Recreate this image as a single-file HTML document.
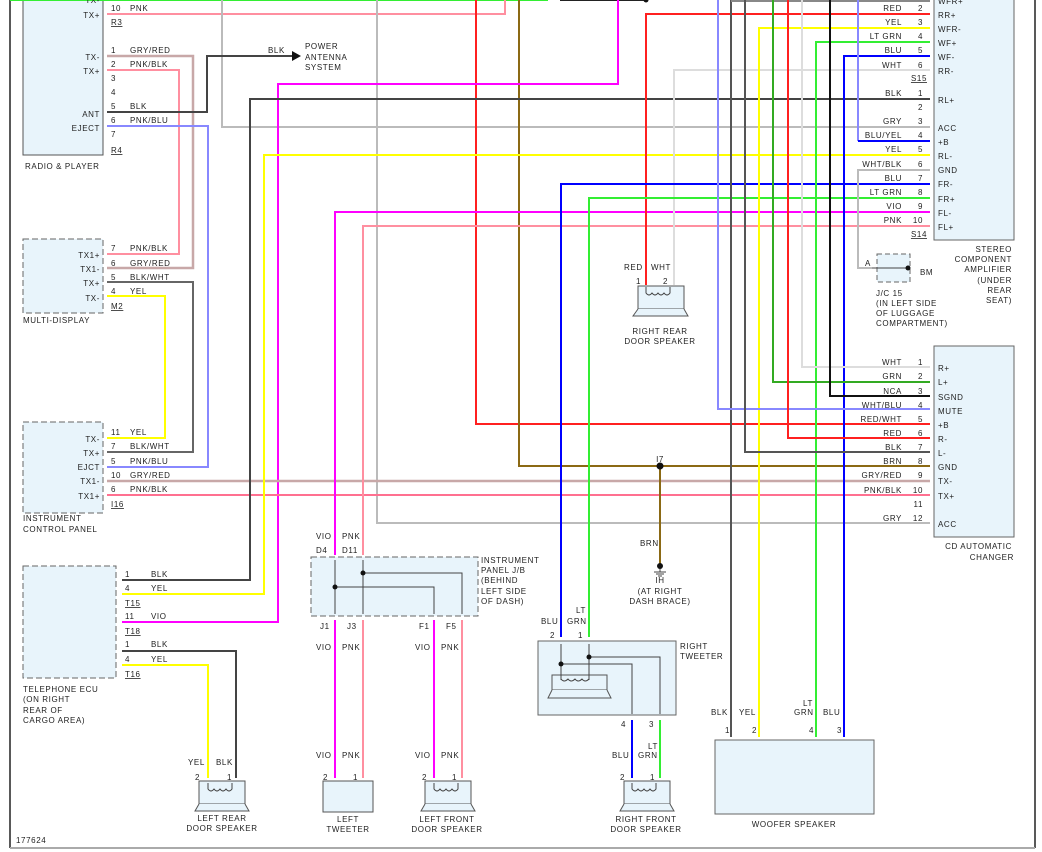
<!DOCTYPE html>
<html><head><meta charset="utf-8"><style>
html,body{margin:0;padding:0;background:#fff;width:1042px;height:852px;overflow:hidden}
svg text{font-family:"Liberation Sans",sans-serif;font-size:8px;letter-spacing:.6px;fill:#222}
.e{text-anchor:end}.m{text-anchor:middle}
</style></head><body>
<svg width="1042" height="852" viewBox="0 0 1042 852" xmlns="http://www.w3.org/2000/svg">
<!-- frame -->
<line x1="10" y1="0" x2="10" y2="848" stroke="#222" stroke-width="1.5"/>
<line x1="1035" y1="0" x2="1035" y2="848" stroke="#222" stroke-width="1.5"/>
<line x1="10" y1="848" x2="1035" y2="848" stroke="#aaa" stroke-width="2"/>

<!-- boxes -->
<rect x="23" y="-2" width="80" height="157" fill="#e8f4fb" stroke="#555"/>
<rect x="23" y="239" width="80" height="74" fill="#e8f4fb" stroke="#666" stroke-dasharray="6,3"/>
<rect x="23" y="422" width="80" height="91" fill="#e8f4fb" stroke="#666" stroke-dasharray="6,3"/>
<rect x="23" y="566" width="93" height="112" fill="#e8f4fb" stroke="#666" stroke-dasharray="6,3"/>
<rect x="934" y="-2" width="80" height="242" fill="#e8f4fb" stroke="#666"/>
<rect x="934" y="346" width="80" height="191" fill="#e8f4fb" stroke="#666"/>
<rect x="311" y="557" width="167" height="59" fill="#e8f4fb" stroke="#666" stroke-dasharray="6,3"/>
<rect x="877" y="254" width="33" height="28" fill="#e8f4fb" stroke="#666" stroke-dasharray="5,3"/>
<rect x="538" y="641" width="138" height="74" fill="#e8f4fb" stroke="#666"/>
<rect x="715" y="740" width="159" height="74" fill="#e8f4fb" stroke="#666"/>
<rect x="323" y="781" width="50" height="31" fill="#e8f4fb" stroke="#555"/>

<!-- door speakers -->
<g fill="#e8f4fb" stroke="#555">
<rect x="638" y="286" width="46" height="23"/><path d="M638 309 L633 316 L688 316 L684 309"/>
<rect x="199" y="781" width="46" height="23"/><path d="M199 804 L195 811 L249 811 L245 804"/>
<rect x="425" y="781" width="46" height="23"/><path d="M425 804 L421 811 L475 811 L471 804"/>
<rect x="624" y="781" width="46" height="23"/><path d="M624 804 L620 811 L674 811 L670 804"/>
<rect x="552" y="675" width="55" height="15"/><path d="M552 690 L548 698 L611 698 L607 690"/>
</g>

<!-- wires -->
<g fill="none" stroke-width="2">
<line x1="10" y1="0" x2="548" y2="0" stroke="#33ee33"/>
<line x1="560" y1="0" x2="646" y2="0" stroke="#222"/>
<polyline points="107,14 505,14 505,0" stroke="#ff8fa0"/>
<polyline points="222,0 222,127 930,127" stroke="#bbb"/>
<polyline points="377,0 377,523 930,523" stroke="#bbb"/>
<polyline points="476,0 476,424 930,424" stroke="#ff2020"/>
<polyline points="519,0 519,466 930,466" stroke="#8b6914"/>
<polyline points="618,0 618,84 278,84 278,622 122,622" stroke="#ff00ff"/>
<polyline points="107,56 193,56 193,268 107,268" stroke="#c8a8a8" stroke-width="2.5"/>
<polyline points="107,70 179,70 179,254 107,254" stroke="#ff8fa0"/>
<polyline points="107,112 207,112 207,56 292,56" stroke="#444"/>
<polyline points="107,126 208,126 208,467 107,467" stroke="#8888ff"/>
<polyline points="107,282 193,282 193,452 107,452" stroke="#666"/>
<polyline points="107,296 165,296 165,438 107,438" stroke="#ffff00"/>
<line x1="107" y1="481" x2="930" y2="481" stroke="#c8a8a8" stroke-width="2.5"/>
<line x1="107" y1="495" x2="930" y2="495" stroke="#ff7090"/>
<polyline points="122,580 250,580 250,99 930,99" stroke="#444"/>
<polyline points="122,594 264,594 264,155 930,155" stroke="#ffff00"/>
<polyline points="122,651 236,651 236,778" stroke="#444"/>
<polyline points="122,665 208,665 208,778" stroke="#ffff00"/>
<polyline points="930,212 335,212 335,555" stroke="#ff00ff"/>
<polyline points="930,226 363,226 363,555" stroke="#ff8fa0"/>
<polyline points="930,14 646,14 646,285" stroke="#ff2020"/>
<polyline points="930,70 674,70 674,285" stroke="#ddd"/>
<polyline points="930,184 561,184 561,637" stroke="#0000ff"/>
<polyline points="930,198 589,198 589,637" stroke="#33ee33"/>
<polyline points="930,28 759,28 759,737" stroke="#ffff00"/>
<polyline points="930,42 816,42 816,737" stroke="#33ee33"/>
<polyline points="930,56 844,56 844,737" stroke="#0000ff"/>
<line x1="731" y1="0" x2="731" y2="737" stroke="#555"/>
<line x1="731" y1="1" x2="930" y2="1" stroke="#888"/>
<polyline points="858,0 858,141" stroke="#8888ff"/>
<line x1="858" y1="141" x2="930" y2="141" stroke="#0000ff"/>
<polyline points="930,170 858,170 858,268 872,268" stroke="#bbb"/>
<polyline points="802,0 802,367 930,367" stroke="#ddd"/>
<polyline points="773,0 773,382 930,382" stroke="#33aa22"/>
<polyline points="830,0 830,396 930,396" stroke="#111"/>
<polyline points="718,0 718,409 930,409" stroke="#8888ff"/>
<polyline points="788,0 788,438 930,438" stroke="#ff2020"/>
<polyline points="745,0 745,452 930,452" stroke="#555"/>
<line x1="660" y1="466" x2="660" y2="565" stroke="#8b6914"/>
<line x1="335" y1="620" x2="335" y2="778" stroke="#ff00ff"/>
<line x1="363" y1="620" x2="363" y2="778" stroke="#ff8fa0"/>
<line x1="434" y1="620" x2="434" y2="778" stroke="#ff00ff"/>
<line x1="462" y1="620" x2="462" y2="778" stroke="#ff8fa0"/>
<line x1="632" y1="720" x2="632" y2="778" stroke="#0000ff"/>
<line x1="660" y1="720" x2="660" y2="778" stroke="#33ee33"/>
</g>
<!-- internal thin lines -->
<g fill="none" stroke="#444" stroke-width="1">
<line x1="335" y1="560" x2="335" y2="614"/><line x1="363" y1="560" x2="363" y2="614"/>
<polyline points="363,573 462,573 462,614"/><polyline points="335,587 434,587 434,614"/>
<line x1="561" y1="644" x2="561" y2="680"/><line x1="589" y1="644" x2="589" y2="680"/>
<polyline points="561,664 632,664 632,714"/><polyline points="589,657 660,657 660,714"/>
<line x1="872" y1="268" x2="908" y2="268"/>
<line x1="660" y1="567" x2="660" y2="572"/>
<line x1="654" y1="572" x2="666" y2="572"/><line x1="656" y1="574" x2="664" y2="574"/><line x1="658" y1="576" x2="662" y2="576"/>
<path d="M646 287 v6 q3 4 6 0 q3 4 6 0 q3 4 6 0 q3 4 6 0 v-6"/>
<path d="M208 783 v6 q3 4 6 0 q3 4 6 0 q3 4 6 0 q3 4 6 0 v-6"/>
<path d="M434 783 v6 q3 4 6 0 q3 4 6 0 q3 4 6 0 q3 4 6 0 v-6"/>
<path d="M632 783 v6 q3 4 6 0 q3 4 6 0 q3 4 6 0 q3 4 6 0 v-6"/>
<path d="M561 676 v3 q3 4 7 0 q3 4 7 0 q3 4 7 0 q3 4 7 0"/>
</g>
<g fill="#111">
<circle cx="646" cy="0" r="2.5"/><circle cx="660" cy="466" r="3.5"/><circle cx="660" cy="566" r="3"/>
<circle cx="363" cy="573" r="2.5"/><circle cx="335" cy="587" r="2.5"/>
<circle cx="561" cy="664" r="2.5"/><circle cx="589" cy="657" r="2.5"/><circle cx="908" cy="268" r="2.5"/>
<path d="M292 51 L301 56 L292 61 Z"/>
</g>

<!-- radio -->
<text x="100" y="3" class="e">TX-</text><text x="100" y="18" class="e">TX+</text>
<text x="111" y="11">10</text><text x="130" y="11">PNK</text><text x="111" y="25" text-decoration="underline">R3</text>
<text x="100" y="60" class="e">TX-</text><text x="100" y="74" class="e">TX+</text>
<text x="111" y="53">1</text><text x="130" y="53">GRY/RED</text>
<text x="111" y="67">2</text><text x="130" y="67">PNK/BLK</text>
<text x="111" y="81">3</text><text x="111" y="95">4</text>
<text x="111" y="109">5</text><text x="130" y="109">BLK</text>
<text x="111" y="123">6</text><text x="130" y="123">PNK/BLU</text>
<text x="111" y="137">7</text>
<text x="100" y="117" class="e">ANT</text><text x="100" y="131" class="e">EJECT</text>
<text x="111" y="153" text-decoration="underline">R4</text>
<text x="25" y="169">RADIO &amp; PLAYER</text>
<text x="268" y="53">BLK</text>
<text x="305" y="49">POWER</text><text x="305" y="60">ANTENNA</text><text x="305" y="70">SYSTEM</text>
<!-- multi -->
<text x="100" y="258" class="e">TX1+</text><text x="100" y="272" class="e">TX1-</text><text x="100" y="286" class="e">TX+</text><text x="100" y="301" class="e">TX-</text>
<text x="111" y="251">7</text><text x="130" y="251">PNK/BLK</text>
<text x="111" y="266">6</text><text x="130" y="266">GRY/RED</text>
<text x="111" y="280">5</text><text x="130" y="280">BLK/WHT</text>
<text x="111" y="294">4</text><text x="130" y="294">YEL</text>
<text x="111" y="309" text-decoration="underline">M2</text>
<text x="23" y="323">MULTI-DISPLAY</text>
<!-- ICP -->
<text x="100" y="442" class="e">TX-</text><text x="100" y="456" class="e">TX+</text><text x="100" y="470" class="e">EJCT</text><text x="100" y="484" class="e">TX1-</text><text x="100" y="499" class="e">TX1+</text>
<text x="111" y="435">11</text><text x="130" y="435">YEL</text>
<text x="111" y="449">7</text><text x="130" y="449">BLK/WHT</text>
<text x="111" y="464">5</text><text x="130" y="464">PNK/BLU</text>
<text x="111" y="478">10</text><text x="130" y="478">GRY/RED</text>
<text x="111" y="492">6</text><text x="130" y="492">PNK/BLK</text>
<text x="111" y="507" text-decoration="underline">I16</text>
<text x="23" y="521">INSTRUMENT</text><text x="23" y="532">CONTROL PANEL</text>
<!-- tel -->
<text x="125" y="577">1</text><text x="151" y="577">BLK</text>
<text x="125" y="591">4</text><text x="151" y="591">YEL</text>
<text x="125" y="606" text-decoration="underline">T15</text>
<text x="125" y="619">11</text><text x="151" y="619">VIO</text>
<text x="125" y="634" text-decoration="underline">T18</text>
<text x="125" y="647">1</text><text x="151" y="647">BLK</text>
<text x="125" y="662">4</text><text x="151" y="662">YEL</text>
<text x="125" y="677" text-decoration="underline">T16</text>
<text x="23" y="692">TELEPHONE ECU</text><text x="23" y="702">(ON RIGHT</text><text x="23" y="713">REAR OF</text><text x="23" y="723">CARGO AREA)</text>
<!-- left rear -->
<text x="188" y="765">YEL</text><text x="216" y="765">BLK</text>
<text x="195" y="780">2</text><text x="227" y="780">1</text>
<text x="222" y="821" class="m">LEFT REAR</text><text x="222" y="831" class="m">DOOR SPEAKER</text>
<!-- J/B -->
<text x="316" y="539">VIO</text><text x="342" y="539">PNK</text>
<text x="316" y="553">D4</text><text x="342" y="553">D11</text>
<text x="481" y="563">INSTRUMENT</text><text x="481" y="573">PANEL J/B</text><text x="481" y="583">(BEHIND</text><text x="481" y="594">LEFT SIDE</text><text x="481" y="604">OF DASH)</text>
<text x="320" y="629">J1</text><text x="347" y="629">J3</text><text x="419" y="629">F1</text><text x="446" y="629">F5</text>
<text x="316" y="650">VIO</text><text x="342" y="650">PNK</text><text x="415" y="650">VIO</text><text x="441" y="650">PNK</text>
<text x="316" y="758">VIO</text><text x="342" y="758">PNK</text><text x="415" y="758">VIO</text><text x="441" y="758">PNK</text>
<text x="323" y="780">2</text><text x="353" y="780">1</text><text x="422" y="780">2</text><text x="452" y="780">1</text>
<text x="348" y="822" class="m">LEFT</text><text x="348" y="832" class="m">TWEETER</text>
<text x="447" y="822" class="m">LEFT FRONT</text><text x="447" y="832" class="m">DOOR SPEAKER</text>
<text x="16" y="843">177624</text>
<!-- right rear / jc -->
<text x="624" y="270">RED</text><text x="651" y="270">WHT</text>
<text x="636" y="284">1</text><text x="663" y="284">2</text>
<text x="660" y="334" class="m">RIGHT REAR</text><text x="660" y="344" class="m">DOOR SPEAKER</text>
<text x="865" y="266">A</text><text x="920" y="275">BM</text>
<text x="876" y="296">J/C 15</text><text x="876" y="306">(IN LEFT SIDE</text><text x="876" y="316">OF LUGGAGE</text><text x="876" y="326">COMPARTMENT)</text>
<!-- I7 -->
<text x="660" y="462" class="m">I7</text><text x="640" y="546">BRN</text>
<text x="660" y="583" class="m">IH</text><text x="660" y="594" class="m">(AT RIGHT</text><text x="660" y="604" class="m">DASH BRACE)</text>
<!-- right tweeter -->
<text x="576" y="613">LT</text><text x="541" y="624">BLU</text><text x="567" y="624">GRN</text>
<text x="550" y="638">2</text><text x="578" y="638">1</text>
<text x="680" y="649">RIGHT</text><text x="680" y="659">TWEETER</text>
<text x="621" y="727">4</text><text x="649" y="727">3</text>
<text x="648" y="749">LT</text><text x="612" y="758">BLU</text><text x="638" y="758">GRN</text>
<text x="620" y="780">2</text><text x="650" y="780">1</text>
<text x="646" y="822" class="m">RIGHT FRONT</text><text x="646" y="832" class="m">DOOR SPEAKER</text>
<!-- woofer -->
<text x="803" y="706">LT</text>
<text x="711" y="715">BLK</text><text x="739" y="715">YEL</text><text x="794" y="715">GRN</text><text x="823" y="715">BLU</text>
<text x="725" y="733">1</text><text x="752" y="733">2</text><text x="809" y="733">4</text><text x="837" y="733">3</text>
<text x="794" y="827" class="m">WOOFER SPEAKER</text>
<!-- amp -->
<text x="938" y="4">WFR+</text>
<text x="902" y="11" class="e">RED</text><text x="923" y="11" class="e">2</text><text x="938" y="18">RR+</text>
<text x="902" y="25" class="e">YEL</text><text x="923" y="25" class="e">3</text><text x="938" y="32">WFR-</text>
<text x="902" y="39" class="e">LT GRN</text><text x="923" y="39" class="e">4</text><text x="938" y="46">WF+</text>
<text x="902" y="53" class="e">BLU</text><text x="923" y="53" class="e">5</text><text x="938" y="60">WF-</text>
<text x="902" y="68" class="e">WHT</text><text x="923" y="68" class="e">6</text><text x="938" y="74">RR-</text>
<text x="927" y="81" class="e" text-decoration="underline">S15</text>
<text x="902" y="96" class="e">BLK</text><text x="923" y="96" class="e">1</text><text x="938" y="103">RL+</text>
<text x="923" y="110" class="e">2</text>
<text x="902" y="124" class="e">GRY</text><text x="923" y="124" class="e">3</text><text x="938" y="131">ACC</text>
<text x="902" y="138" class="e">BLU/YEL</text><text x="923" y="138" class="e">4</text><text x="938" y="145">+B</text>
<text x="902" y="152" class="e">YEL</text><text x="923" y="152" class="e">5</text><text x="938" y="159">RL-</text>
<text x="902" y="167" class="e">WHT/BLK</text><text x="923" y="167" class="e">6</text><text x="938" y="173">GND</text>
<text x="902" y="181" class="e">BLU</text><text x="923" y="181" class="e">7</text><text x="938" y="187">FR-</text>
<text x="902" y="195" class="e">LT GRN</text><text x="923" y="195" class="e">8</text><text x="938" y="202">FR+</text>
<text x="902" y="209" class="e">VIO</text><text x="923" y="209" class="e">9</text><text x="938" y="216">FL-</text>
<text x="902" y="223" class="e">PNK</text><text x="923" y="223" class="e">10</text><text x="938" y="230">FL+</text>
<text x="927" y="237" class="e" text-decoration="underline">S14</text>
<text x="1012" y="252" class="e">STEREO</text><text x="1012" y="262" class="e">COMPONENT</text><text x="1012" y="272" class="e">AMPLIFIER</text><text x="1012" y="283" class="e">(UNDER</text><text x="1012" y="293" class="e">REAR</text><text x="1012" y="303" class="e">SEAT)</text>
<!-- CD -->
<text x="902" y="365" class="e">WHT</text><text x="923" y="365" class="e">1</text><text x="938" y="371">R+</text>
<text x="902" y="379" class="e">GRN</text><text x="923" y="379" class="e">2</text><text x="938" y="385">L+</text>
<text x="902" y="394" class="e">NCA</text><text x="923" y="394" class="e">3</text><text x="938" y="400">SGND</text>
<text x="902" y="408" class="e">WHT/BLU</text><text x="923" y="408" class="e">4</text><text x="938" y="414">MUTE</text>
<text x="902" y="422" class="e">RED/WHT</text><text x="923" y="422" class="e">5</text><text x="938" y="428">+B</text>
<text x="902" y="436" class="e">RED</text><text x="923" y="436" class="e">6</text><text x="938" y="442">R-</text>
<text x="902" y="450" class="e">BLK</text><text x="923" y="450" class="e">7</text><text x="938" y="456">L-</text>
<text x="902" y="464" class="e">BRN</text><text x="923" y="464" class="e">8</text><text x="938" y="470">GND</text>
<text x="902" y="478" class="e">GRY/RED</text><text x="923" y="478" class="e">9</text><text x="938" y="484">TX-</text>
<text x="902" y="493" class="e">PNK/BLK</text><text x="923" y="493" class="e">10</text><text x="938" y="499">TX+</text>
<text x="923" y="507" class="e">11</text>
<text x="902" y="521" class="e">GRY</text><text x="923" y="521" class="e">12</text><text x="938" y="527">ACC</text>
<text x="1012" y="549" class="e">CD AUTOMATIC</text><text x="1014" y="560" class="e">CHANGER</text>
</svg>
</body></html>
